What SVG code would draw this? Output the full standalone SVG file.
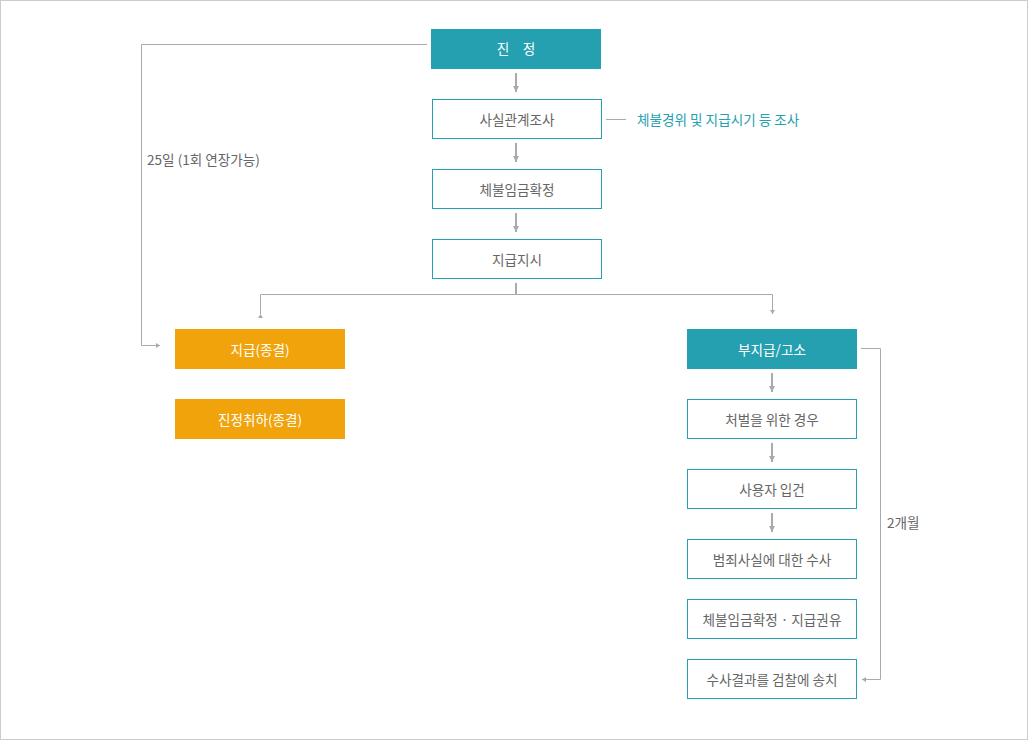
<svg xmlns="http://www.w3.org/2000/svg" width="1028" height="740" viewBox="0 0 1028 740">
<style>
.fill-teal{fill:#25a0b0}
.fill-org{fill:#f0a30a}
.box{fill:#fff;stroke:#25a0b0;stroke-width:1}
.t{font-family:"Noto Sans CJK KR","Noto Sans",sans-serif;font-size:13.6px;fill:#666;text-anchor:middle;dominant-baseline:central}
.tw{fill:#fff}
.lbl{font-family:"Noto Sans CJK KR","Noto Sans",sans-serif;font-size:13.6px;fill:#666;dominant-baseline:central}
.ln{fill:none;stroke:#aaa;stroke-width:1}
.ln2{fill:none;stroke:#aaa;stroke-width:2}
</style>
<defs>
<marker id="ah" markerWidth="8" markerHeight="8" refX="6" refY="4" orient="auto" markerUnits="userSpaceOnUse">
<path d="M0,1 L6,4 L0,7 Z" fill="#aaa"/>
</marker>
<marker id="ahs" markerWidth="6" markerHeight="6" refX="4" refY="3" orient="auto" markerUnits="userSpaceOnUse">
<path d="M0,0.5 L4,3 L0,5.5 Z" fill="#aaa"/>
</marker>
</defs>
<rect x="0.5" y="0.5" width="1027" height="739" fill="#fff" stroke="#ccc"/>
<g id="connectors">
<line class="ln2" x1="516" y1="73" x2="516" y2="92" marker-end="url(#ah)"/>
<line class="ln2" x1="516" y1="143" x2="516" y2="162" marker-end="url(#ah)"/>
<line class="ln2" x1="516" y1="213" x2="516" y2="232" marker-end="url(#ah)"/>
<line class="ln2" x1="516" y1="283" x2="516" y2="294"/>
<polyline class="ln" points="260.5,314 260.5,294.5 772.5,294.5 772.5,314" marker-start="url(#ahs)" marker-end="url(#ahs)"/>
<line class="ln" x1="606" y1="119.5" x2="626" y2="119.5"/>
<polyline class="ln" points="427,44.5 141.5,44.5 141.5,345.5 160,345.5" marker-end="url(#ahs)"/>
<polyline class="ln" points="861,348.5 880.5,348.5 880.5,679.5 862,679.5" marker-end="url(#ahs)"/>
<line class="ln2" x1="772" y1="373" x2="772" y2="392" marker-end="url(#ah)"/>
<line class="ln2" x1="772" y1="443" x2="772" y2="462" marker-end="url(#ah)"/>
<line class="ln2" x1="772" y1="513" x2="772" y2="532" marker-end="url(#ah)"/>
</g>
<g id="n-jinjeong"><rect class="fill-teal" x="431" y="29" width="170" height="40"/><text class="t tw" x="516" y="48"><tspan x="503">진</tspan><tspan x="529">정</tspan></text></g>
<g id="n-sasil"><rect class="box" x="432.5" y="99.5" width="169" height="39"/><text class="t" x="517" y="119">사실관계조사</text></g>
<g id="n-annot"><text class="lbl" x="637" y="119" style="fill:#25a0b0">체불경위 및 지급시기 등 조사</text></g>
<g id="n-chebul"><rect class="box" x="432.5" y="169.5" width="169" height="39"/><text class="t" x="517" y="189">체불임금확정</text></g>
<g id="n-jigeupjisi"><rect class="box" x="432.5" y="239.5" width="169" height="39"/><text class="t" x="517" y="259">지급지시</text></g>
<g id="n-label25"><text class="lbl" x="147" y="159">25일 (1회 연장가능)</text></g>
<g id="n-jigeup"><rect class="fill-org" x="175" y="329" width="170" height="40"/><text class="t tw" x="260" y="349">지급(종결)</text></g>
<g id="n-chwiha"><rect class="fill-org" x="175" y="399" width="170" height="40"/><text class="t tw" x="260" y="419">진정취하(종결)</text></g>
<g id="n-bujigeup"><rect class="fill-teal" x="687" y="329" width="170" height="40"/><text class="t tw" x="772" y="349">부지급/고소</text></g>
<g id="n-cheobeol"><rect class="box" x="687.5" y="399.5" width="169" height="39"/><text class="t" x="772" y="419">처벌을 위한 경우</text></g>
<g id="n-ipgeon"><rect class="box" x="687.5" y="469.5" width="169" height="39"/><text class="t" x="772" y="489">사용자 입건</text></g>
<g id="n-susa"><rect class="box" x="687.5" y="539.5" width="169" height="39"/><text class="t" x="772" y="559">범죄사실에 대한 수사</text></g>
<g id="n-gwonyu"><rect class="box" x="687.5" y="599.5" width="169" height="39"/><text class="t" x="772" y="619">체불임금확정 · 지급권유</text></g>
<g id="n-songchi"><rect class="box" x="687.5" y="659.5" width="169" height="39"/><text class="t" x="772" y="679">수사결과를 검찰에 송치</text></g>
<g id="n-label2"><text class="lbl" x="887" y="522">2개월</text></g>
</svg>
